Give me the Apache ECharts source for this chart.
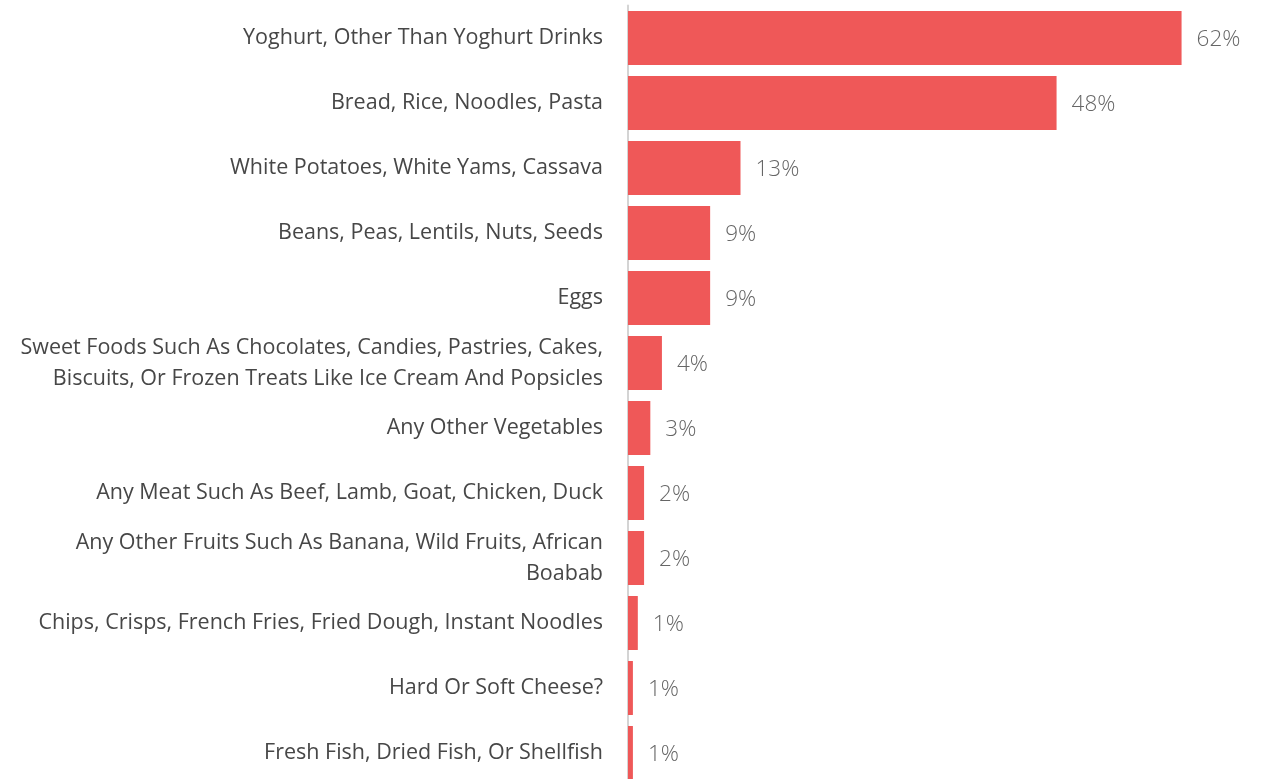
<!DOCTYPE html>
<html>
<head>
<meta charset="utf-8">
<script src="https://cdn.jsdelivr.net/npm/echarts@6/dist/echarts.min.js"></script>
<style>
  html, body { margin: 0; padding: 0; background: #fff; }
  #chart { width: 1268px; height: 779px; }
</style>
</head>
<body>
<div id="chart"></div>
<script>
// Food groups consumed, share of respondents (%)
const categories = [
  'Yoghurt, Other Than Yoghurt Drinks',
  'Bread, Rice, Noodles, Pasta',
  'White Potatoes, White Yams, Cassava',
  'Beans, Peas, Lentils, Nuts, Seeds',
  'Eggs',
  'Sweet Foods Such As Chocolates, Candies, Pastries, Cakes,\nBiscuits, Or Frozen Treats Like Ice Cream And Popsicles',
  'Any Other Vegetables',
  'Any Meat Such As Beef, Lamb, Goat, Chicken, Duck',
  'Any Other Fruits Such As Banana, Wild Fruits, African\nBoabab',
  'Chips, Crisps, French Fries, Fried Dough, Instant Noodles',
  'Hard Or Soft Cheese?',
  'Fresh Fish, Dried Fish, Or Shellfish'
];
const shares = [62, 48, 12.6, 9.2, 9.2, 3.8, 2.5, 1.8, 1.8, 1.1, 0.55, 0.55];

const chart = echarts.init(document.getElementById('chart'), null, { renderer: 'canvas' });
chart.setOption({
  animation: false,
  // the last row runs a little past the bottom edge
  grid: { left: 628, right: 15, top: 5.5, height: 780, containLabel: false, outerBoundsMode: 'none' },
  xAxis: {
    type: 'value', min: 0, max: 70,
    show: false
  },
  yAxis: {
    type: 'category',
    inverse: true,
    data: categories,
    axisLine: { show: true, lineStyle: { color: '#d4d4d4', width: 2 } },
    axisTick: { show: false },
    axisLabel: {
      margin: 25,
      color: '#474747',
      fontFamily: 'Open Sans',
      fontSize: 21.5,
      lineHeight: 31,
      align: 'right',
      padding: [4, 0, 0, 0]
    }
  },
  series: [{
    type: 'bar',
    data: shares,
    barCategoryGap: '17%',
    itemStyle: { color: '#EF5858' },
    label: {
      show: true,
      position: 'right',
      distance: 15,
      offset: [0, 2],
      color: '#666666',
      fontFamily: 'Open Sans',
      fontWeight: 300,
      fontSize: 22.5,
      formatter: p => Math.round(p.value) + '%'
    }
  }]
});
</script>
</body>
</html>
